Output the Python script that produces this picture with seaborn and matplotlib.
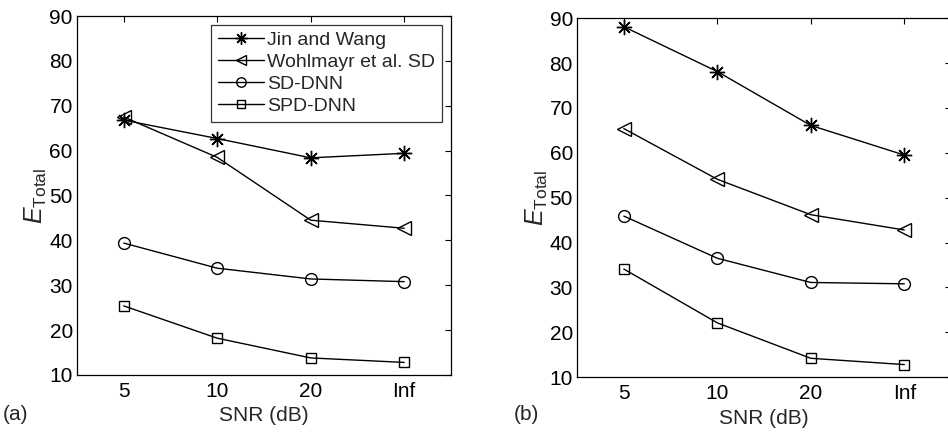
import numpy as np
import pandas as pd
import matplotlib
matplotlib.use("Agg")
import matplotlib.pyplot as plt
import seaborn as sns
from matplotlib.lines import Line2D

snr_labels = ["5", "10", "20", "Inf"]
methods = ["Jin and Wang", "Wohlmayr et al. SD", "SD-DNN", "SPD-DNN"]

# panel (a)
a_jin = [66.8, 62.7, 58.4, 59.4]
a_wohl = [67.5, 58.5, 44.5, 42.7]
a_sd = [39.4, 33.8, 31.4, 30.8]
a_spd = [25.4, 18.2, 13.8, 12.8]

# panel (b)
b_jin = [88.1, 78.1, 66.1, 59.5]
b_wohl = [65.4, 54.1, 46.2, 42.8]
b_sd = [45.9, 36.5, 31.1, 30.8]
b_spd = [34.1, 22.1, 14.2, 12.8]

yticks = [10, 20, 30, 40, 50, 60, 70, 80, 90]

sns.set_theme(style="white")
plt.rcParams["font.family"] = ["Liberation Sans", "DejaVu Sans"]
plt.rcParams["mathtext.fontset"] = "custom"
plt.rcParams["mathtext.rm"] = "Liberation Sans"
plt.rcParams["mathtext.it"] = "Liberation Sans:italic"

markers = {
    "Jin and Wang": (8, 2, 0),
    "Wohlmayr et al. SD": "<",
    "SD-DNN": "o",
    "SPD-DNN": "s",
}
msizes = {"Jin and Wang": 11, "Wohlmayr et al. SD": 9.5, "SD-DNN": 8.5, "SPD-DNN": 7.5}


def long_table(series):
    rows = []
    for name, vals in zip(methods, series):
        for i, v in enumerate(vals):
            rows.append({"method": name, "pos": i, "snr": snr_labels[i], "E": v})
    return pd.DataFrame(rows)


W, H = 948, 433
fig = plt.figure(figsize=(W / 100, H / 100), dpi=100)
ax_a = fig.add_axes([0.0812, 0.134, 0.3945, 0.829])
ax_b = fig.add_axes([0.6087, 0.129, 0.3945, 0.829])

panels = [
    (ax_a, [a_jin, a_wohl, a_sd, a_spd], "(a)", 3),
    (ax_b, [b_jin, b_wohl, b_sd, b_spd], "(b)", 514),
]

for ax, series, tag, tag_x in panels:
    df = long_table(series)
    for name in methods:
        sub = df[df["method"] == name]
        sns.lineplot(data=sub, x="pos", y="E", ax=ax, color="black",
                     linewidth=1.0, marker=markers[name],
                     markersize=msizes[name], legend=False)
    for ln in ax.lines:
        ln.set_markerfacecolor("none")
        ln.set_markeredgecolor("black")
        ln.set_markeredgewidth(1.0)
    ax.set_xlim(-0.5, len(snr_labels) - 0.5)
    ax.set_ylim(10, 90)
    ax.set_xticks(range(len(snr_labels)))
    ax.set_xticklabels(snr_labels)
    ax.set_yticks(yticks)
    ax.tick_params(direction="in", length=4, width=0.8, top=True, right=True,
                   labelsize=15, pad=5, colors="black")
    ax.tick_params(axis="y", pad=3)
    for sp in ax.spines.values():
        sp.set_color("black")
        sp.set_linewidth(0.9)
    ax.set_xlabel("SNR (dB)", fontsize=15, labelpad=4)
    ax.set_ylabel(r"$\mathit{E}_{\mathrm{Total}}$", fontsize=18, labelpad=0)
    ax.grid(False)
    fig.text(tag_x / W, 1 - 414 / H, tag, fontsize=15, ha="left", va="center")

handles = [
    Line2D([0], [0], color="black", linewidth=1.0, marker=markers[m],
           markersize=msizes[m] * 0.8, markerfacecolor="none",
           markeredgecolor="black")
    for m in methods
]
leg = ax_a.legend(handles, methods, loc="upper right", fontsize=14,
                  frameon=True, fancybox=False, edgecolor="black",
                  handlelength=2.4, handletextpad=0.15, borderpad=0.35,
                  labelspacing=0.22, borderaxespad=0.45)
leg.get_frame().set_linewidth(0.9)

fig.savefig("out.png", dpi=100)
